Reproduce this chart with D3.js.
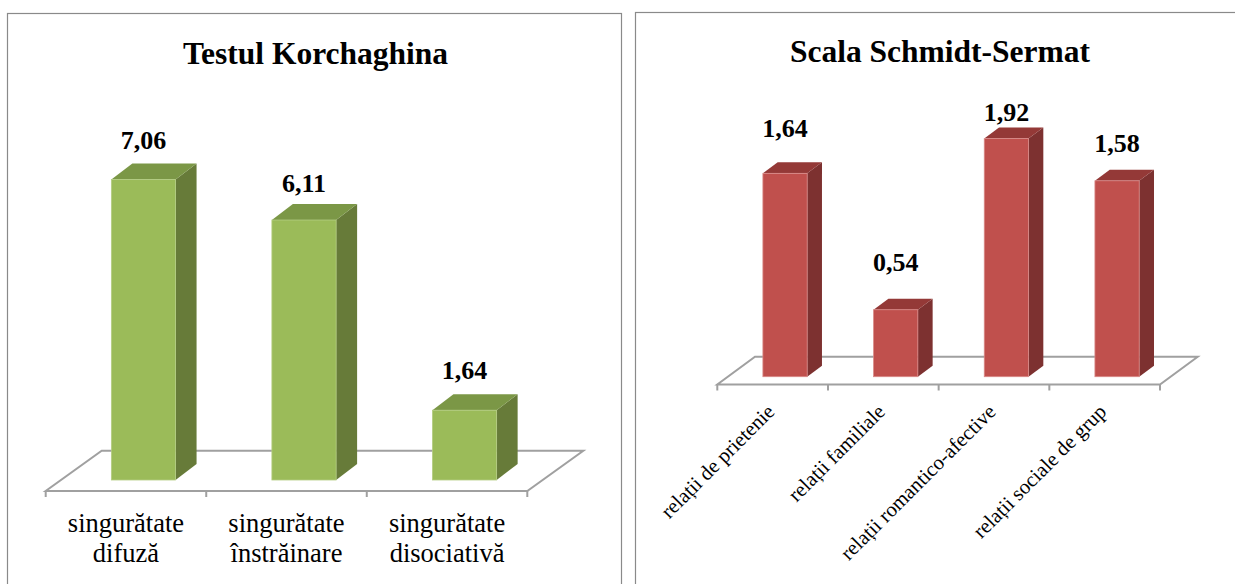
<!DOCTYPE html>
<html>
<head>
<meta charset="utf-8">
<script src="https://cdn.jsdelivr.net/npm/d3@7"></script>
<style>
  html, body { margin: 0; padding: 0; background: #ffffff; }
  svg { display: block; }
</style>
</head>
<body>
<svg id="chart" width="1235" height="584"></svg>
<script>
// ---- data ----
const korchaghinaTitle = "Testul Korchaghina";
const korchaghinaCategories = [
  ["singurătate", "difuză"],
  ["singurătate", "înstrăinare"],
  ["singurătate", "disociativă"]
];
const korchaghinaValues = [7.06, 6.11, 1.64];

const schmidtTitle = "Scala Schmidt-Sermat";
const schmidtCategories = [
  "relații de prietenie",
  "relații familiale",
  "relații romantico-afective",
  "relații sociale de grup"
];
const schmidtValues = [1.64, 0.54, 1.92, 1.58];

// Romanian number format: comma as decimal separator
const roLocale = d3.formatLocale({ decimal: ",", thousands: ".", grouping: [3], currency: ["", " lei"] });
const fmt = roLocale.format(".2f");

const SERIF = '"Liberation Serif", "Times New Roman", serif';

const svg = d3.select("#chart");

// panel frames
svg.append("rect").attr("x", 7.5).attr("y", 13.5).attr("width", 614).attr("height", 600)
  .attr("fill", "none").attr("stroke", "#8a8a8a").attr("stroke-width", 1.2);
svg.append("rect").attr("x", 635.5).attr("y", 12.5).attr("width", 620).attr("height", 600)
  .attr("fill", "none").attr("stroke", "#8a8a8a").attr("stroke-width", 1.2);

// draws one 3D column chart on an oblique floor
function columnChart(cfg) {
  const g = svg.append("g");
  const n = cfg.values.length;

  const x = d3.scaleBand()
    .domain(d3.range(n))
    .range([cfg.x0, cfg.x1])
    .paddingInner(0.6)
    .paddingOuter(0.3);
  const step = x.step();

  const baseY = cfg.floorY + cfg.barShift[1];
  const y = d3.scaleLinear()
    .domain([0, cfg.yMax])
    .range([baseY, baseY - cfg.yMax * cfg.unit]);

  // title
  g.append("text")
    .attr("x", cfg.titleX).attr("y", cfg.titleY)
    .attr("text-anchor", "middle")
    .style("font-family", SERIF)
    .style("font-weight", "bold")
    .style("font-size", "31.5px")
    .text(cfg.title);

  // floor
  const [dx, dy] = cfg.depth;
  const fl = [
    [cfg.x0, cfg.floorY], [cfg.x1, cfg.floorY],
    [cfg.x1 + dx, cfg.floorY + dy], [cfg.x0 + dx, cfg.floorY + dy]
  ];
  g.append("path")
    .attr("d", d3.line()(fl) + "Z")
    .attr("fill", "none")
    .attr("stroke", "#a0a0a0")
    .attr("stroke-width", 2)
    .attr("stroke-linejoin", "miter");

  // category ticks at slot boundaries
  g.selectAll(".tick")
    .data(d3.range(n + 1))
    .join("line")
    .attr("x1", i => cfg.x0 + i * step)
    .attr("x2", i => cfg.x0 + i * step)
    .attr("y1", cfg.floorY)
    .attr("y2", cfg.floorY + 6)
    .attr("stroke", "#a0a0a0")
    .attr("stroke-width", 2);

  // bars
  const bw = x.bandwidth();
  const [bdx, bdy] = cfg.barDepth;
  const bars = g.selectAll(".bar")
    .data(cfg.values.map((v, i) => ({ v, i })))
    .join("g");

  bars.each(function (d) {
    const b = d3.select(this);
    const L = x(d.i) + cfg.barShift[0];
    const R = L + bw;
    const T = y(d.v);
    const B = y(0);
    // right side face
    b.append("path")
      .attr("d", d3.line()([[R, T], [R + bdx, T + bdy], [R + bdx, B + bdy], [R, B]]) + "Z")
      .attr("fill", cfg.sideColor);
    // top face
    b.append("path")
      .attr("d", d3.line()([[L, T], [L + bdx, T + bdy], [R + bdx, T + bdy], [R, T]]) + "Z")
      .attr("fill", cfg.topColor);
    // front face
    b.append("rect")
      .attr("x", L).attr("y", T)
      .attr("width", bw).attr("height", B - T)
      .attr("fill", cfg.frontColor)
      .attr("stroke", cfg.edgeColor)
      .attr("stroke-width", 0.8);
    // value label
    b.append("text")
      .attr("x", L + bw / 2)
      .attr("y", T - cfg.labelLift[d.i])
      .attr("text-anchor", "middle")
      .style("font-family", SERIF)
      .style("font-weight", "bold")
      .style("font-size", "26px")
      .text(fmt(d.v));
  });

  return { x, step };
}

// ---- left chart ----
const left = columnChart({
  title: korchaghinaTitle,
  titleX: 315.5, titleY: 64,
  values: korchaghinaValues,
  x0: 45.7, x1: 527.3, floorY: 491,
  depth: [56, -40.3],
  barShift: [17.5, -11],
  barDepth: [21, -16],
  yMax: 8, unit: 42.55,
  labelLift: [31, 28.5, 31.5],
  frontColor: "#9bbb59", topColor: "#7b9746", sideColor: "#677b39", edgeColor: "#b4cc82"
});

const leftLabels = svg.append("g");
korchaghinaCategories.forEach((lines, i) => {
  const cx = 45.7 + (i + 0.5) * left.step;
  const t = leftLabels.append("text")
    .attr("text-anchor", "middle")
    .style("font-family", SERIF)
    .style("font-size", "26.5px");
  lines.forEach((s, k) => {
    t.append("tspan").attr("x", cx).attr("y", 531.5 + k * 30).text(s);
  });
});

// ---- right chart ----
const right = columnChart({
  title: schmidtTitle,
  titleX: 940, titleY: 62,
  values: schmidtValues,
  x0: 717.3, x1: 1160, floorY: 384.5,
  depth: [37.7, -27.8],
  barShift: [12.4, -7.8],
  barDepth: [14.8, -11],
  yMax: 2.5, unit: 124,
  labelLift: [36, 39, 17.5, 28.5],
  frontColor: "#c0504d", topColor: "#943937", sideColor: "#7d3130", edgeColor: "#d98a88"
});

svg.append("g")
  .selectAll("text")
  .data(schmidtCategories)
  .join("text")
  .attr("transform", (d, i) => `translate(${717.3 + (i + 0.5) * right.step + 3},413) rotate(-45)`)
  .attr("text-anchor", "end")
  .style("font-family", SERIF)
  .style("font-size", "20.7px")
  .text(d => d);
</script>
</body>
</html>
